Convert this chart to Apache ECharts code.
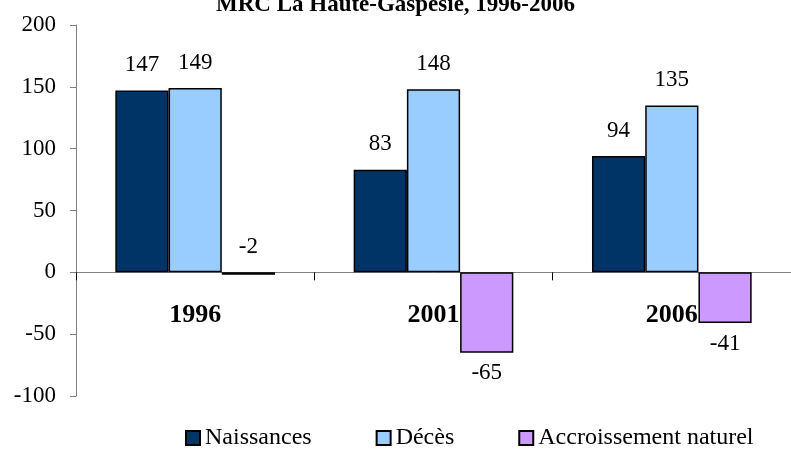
<!DOCTYPE html>
<html>
<head>
<meta charset="utf-8">
<script src="https://cdn.jsdelivr.net/npm/echarts@6/dist/echarts.min.js"></script>
<style>
  html, body { margin: 0; padding: 0; background: #fff; }
  #chart { width: 791px; height: 449px; }
</style>
</head>
<body>
<div id="chart"></div>
<script>
// données du graphique
const years = ['1996', '2001', '2006'];
const naissances = [147, 83, 94];
const deces = [149, 148, 135];
const accroissement = [-2, -65, -41];
const yTicks = [-100, -50, 0, 50, 100, 150, 200];

const serif = "'Liberation Serif', 'Times New Roman', serif";

function labelFor(v) {
  // Excel met l'étiquette au-dessus pour -2, dessous pour les autres négatifs
  const pos = v < -5 ? 'bottom' : 'top';
  return {
    value: v,
    label: { position: pos, distance: pos === 'top' ? 14 : 9 }
  };
}

const chart = echarts.init(document.getElementById('chart'));

const barStyle = (color) => ({
  color: color,
  borderColor: '#000',
  borderWidth: 1.5
});

const dataLabel = {
  show: true,
  color: '#000',
  fontFamily: serif,
  fontSize: 23
};

const option = {
  backgroundColor: '#fff',
  animation: false,
  title: {
    text: 'MRC La Haute-Gaspésie, 1996-2006',
    left: 'center',
    top: -11,
    textStyle: { fontFamily: serif, fontSize: 23, fontWeight: 'bold', color: '#000' }
  },
  legend: {
    top: 421,
    left: 180,
    icon: 'rect',
    itemWidth: 14,
    itemHeight: 14,
    itemGap: 64,
    textStyle: { fontFamily: serif, fontSize: 24, color: '#000' },
    data: ['Naissances', 'Décès', 'Accroissement naturel']
  },
  grid: { left: 76, right: -8, top: 25, bottom: 53, containLabel: false },
  xAxis: {
    type: 'category',
    data: years,
    axisLine: { onZero: true, lineStyle: { color: '#808080', width: 1 } },
    axisTick: { show: true, length: 8, lineStyle: { color: '#000' } },
    axisLabel: {
      margin: -94,
      color: '#000',
      fontFamily: serif,
      fontSize: 26,
      fontWeight: 'bold'
    },
    splitLine: { show: false }
  },
  yAxis: {
    type: 'value',
    min: yTicks[0],
    max: yTicks[yTicks.length - 1],
    interval: 50,
    axisLine: { show: true, lineStyle: { color: '#808080', width: 1 } },
    axisTick: { show: true, length: 6, lineStyle: { color: '#808080' } },
    axisLabel: { margin: 20, color: '#000', fontFamily: serif, fontSize: 23 },
    splitLine: { show: false }
  },
  series: [
    {
      name: 'Naissances',
      type: 'bar',
      barGap: '0%',
      barCategoryGap: '33%',
      itemStyle: barStyle('#003366'),
      label: dataLabel,
      data: naissances.map(labelFor)
    },
    {
      name: 'Décès',
      type: 'bar',
      barGap: '0%',
      barCategoryGap: '33%',
      itemStyle: barStyle('#99CCFF'),
      label: dataLabel,
      data: deces.map(labelFor)
    },
    {
      name: 'Accroissement naturel',
      type: 'bar',
      barGap: '0%',
      barCategoryGap: '33%',
      itemStyle: barStyle('#CC99FF'),
      label: dataLabel,
      data: accroissement.map(labelFor)
    }
  ]
};

chart.setOption(option);
window.addEventListener('resize', () => chart.resize());
</script>
</body>
</html>
